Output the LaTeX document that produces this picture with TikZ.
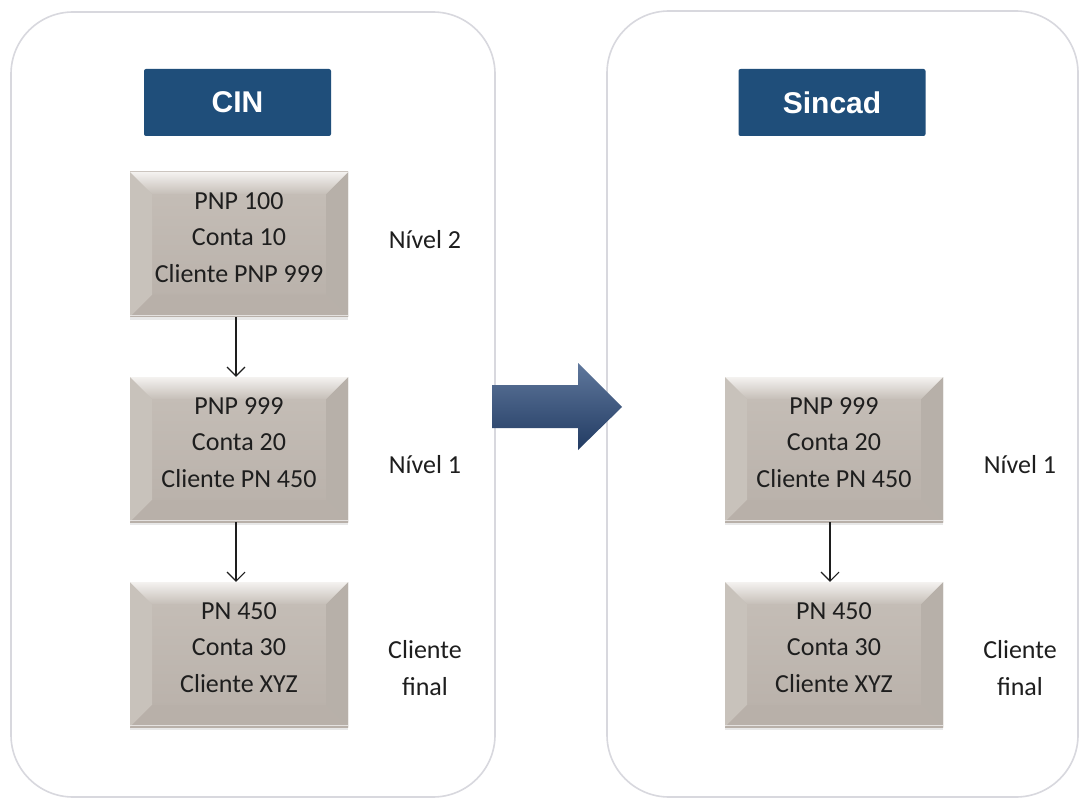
\documentclass[tikz,border=0pt]{standalone}
\usepackage{fontspec}
\setmainfont{Carlito}
\newfontfamily\hdrfont{Liberation Sans}
\usetikzlibrary{arrows.meta,shadows}
\definecolor{hdrblue}{HTML}{1F4E7A}
\definecolor{boxgray}{HTML}{BDB5AE}
\definecolor{boxtop}{HTML}{C6BFB8}
\definecolor{boxbot}{HTML}{B8B0A9}
\definecolor{boxlight}{HTML}{F4F2F0}
\definecolor{panelline}{HTML}{D8D8DE}
\definecolor{arrowblue}{HTML}{2A4A7B}
\definecolor{txt}{HTML}{1E1E1E}
\newcommand\liftgap{\\[-22.5pt]\mbox{}}
\begin{document}
\begin{tikzpicture}[x=1pt,y=-1pt,
  panel/.style={draw=panelline, line width=1.6pt, rounded corners=62pt, fill=white},
  header/.style={fill=hdrblue, rounded corners=2pt, minimum width=187pt, minimum height=67pt,
    text=white, font=\hdrfont\bfseries\fontsize{30}{34}\selectfont, inner sep=0pt},
  bevelbox/.style={top color=boxtop, bottom color=boxbot, minimum width=218pt, minimum height=145pt,
    inner sep=0pt, align=center, text=txt, font=\fontsize{26}{36.5}\selectfont,
    drop shadow={opacity=0.18, shadow xshift=0pt, shadow yshift=-3pt},
    path picture={
      \coordinate (bnw) at (path picture bounding box.north west);
      \coordinate (bne) at (path picture bounding box.north east);
      \coordinate (bsw) at (path picture bounding box.south west);
      \coordinate (bse) at (path picture bounding box.south east);
      \fill[boxtop!60!boxgray!90!white] (bnw) -- ([shift={(22pt,-22pt)}]bnw) -- ([shift={(22pt,22pt)}]bsw) -- (bsw) -- cycle;
      \fill[boxgray!97!black] (bne) -- ([shift={(-22pt,-22pt)}]bne) -- ([shift={(-22pt,22pt)}]bse) -- (bse) -- cycle;
      \fill[boxbot] (bsw) -- ([shift={(22pt,22pt)}]bsw) -- ([shift={(-22pt,22pt)}]bse) -- (bse) -- cycle;
      \shade[top color=boxlight, bottom color=boxtop] (bnw) -- (bne) -- ([shift={(-22pt,-22pt)}]bne) -- ([shift={(22pt,-22pt)}]bnw) -- cycle;
      \draw[white!60!boxgray, line width=1.5pt] ([yshift=1.5pt]bsw) -- ([yshift=1.5pt]bse);
    }},
  lbl/.style={align=center, text=txt, font=\fontsize{26}{36.5}\selectfont},
  conn/.style={draw=txt, line width=1.1pt, -{Straight Barb[length=9pt,width=18pt]}}
]
\useasboundingbox (0,0) rectangle (1081,799);
\fill[white] (0,0) rectangle (1081,799);

% panels
\draw[panel] (11,12) rectangle (495,797);
\draw[panel] (607,11) rectangle (1078,797);

% headers
\node[header] (hcin) at (237.5,102.5) {CIN};
\node[header] (hsin) at (832,102.5) {Sincad};

% left column
\node[bevelbox] (l1) at (239,244.5) {PNP 100\\Conta 10\\Cliente PNP 999\liftgap};
\node[bevelbox] (l2) at (239,449.5) {PNP 999\\Conta 20\\Cliente PN 450\liftgap};
\node[bevelbox] (l3) at (239,654.5) {PN 450\\Conta 30\\Cliente XYZ\liftgap};

% right column
\node[bevelbox] (r2) at (834,449.5) {PNP 999\\Conta 20\\Cliente PN 450\liftgap};
\node[bevelbox] (r3) at (834,654.5) {PN 450\\Conta 30\\Cliente XYZ\liftgap};

% level labels
\node[lbl] (n2) at (425,240) {Nível 2};
\node[lbl] (n1) at (425,465) {Nível 1};
\node[lbl] (cf) at (425,668) {Cliente\\final};
\node[lbl] (rn1) at (1020,465) {Nível 1};
\node[lbl] (rcf) at (1020,668) {Cliente\\final};

% connectors
\draw[conn] ([xshift=-3pt]l1.south) -- ([xshift=-3pt]l2.north);
\draw[conn] ([xshift=-3pt]l2.south) -- ([xshift=-3pt]l3.north);
\draw[conn] ([xshift=-4pt]r2.south) -- ([xshift=-4pt]r3.north);

% big arrow
\shade[top color=arrowblue!75!white, middle color=arrowblue, bottom color=arrowblue!80!black]
  (492,385) -- (578,385) -- (578,363) -- (622,407) -- (578,450) -- (578,428) -- (492,428) -- cycle;
\end{tikzpicture}
\end{document}
